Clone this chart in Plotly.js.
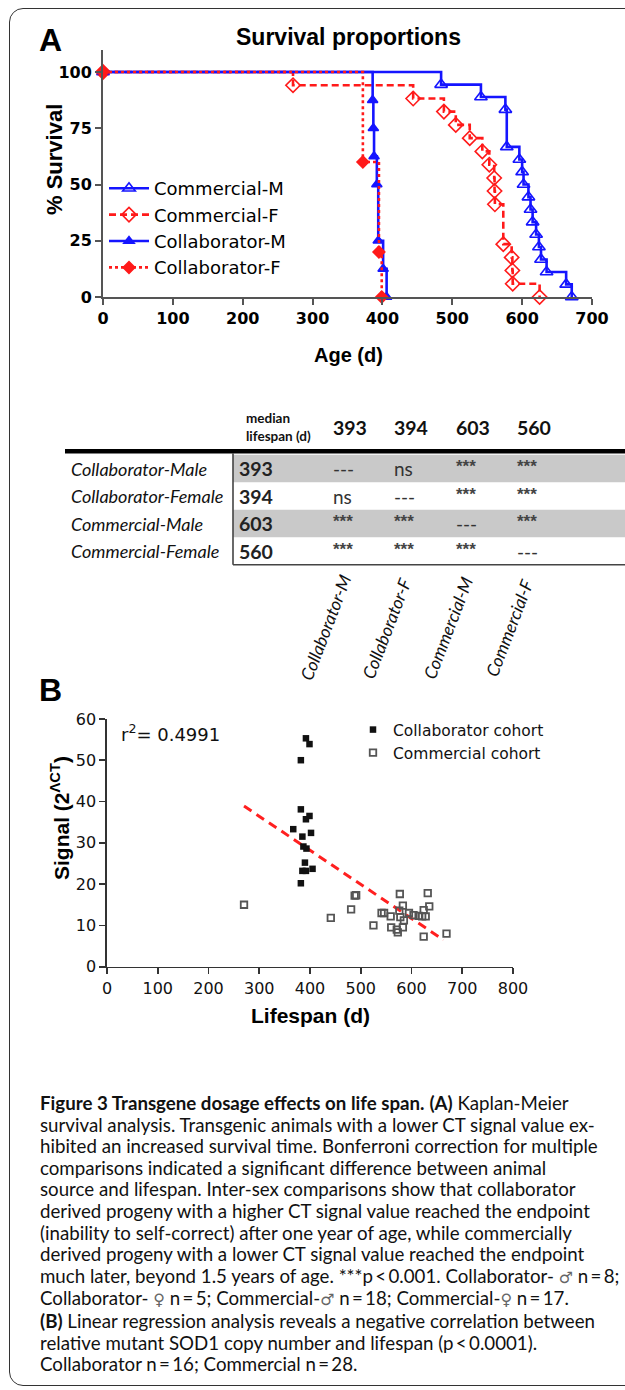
<!DOCTYPE html>
<html><head><meta charset="utf-8">
<script src="https://cdn.plot.ly/plotly-3.0.1.min.js"></script>
<style>
html,body{margin:0;padding:0;background:#fff;}
#wrap{position:relative;width:625px;height:1390px;overflow:hidden;background:#fff;}
#chart{position:absolute;left:0;top:0;width:625px;height:1390px;}
#frame{position:absolute;left:9px;top:8px;width:650px;height:1378px;border:1.6px solid #333;border-radius:14px;box-sizing:border-box;pointer-events:none;}
#caption{position:absolute;left:40px;top:1093px;font-family:Lato,"DejaVu Sans",sans-serif;line-height:21.6px;color:#111;white-space:nowrap;font-size:100px;}
#caption div{display:block;}
#caption span.ln{display:inline-block;}
#caption .sx{font-family:"DejaVu Sans",sans-serif;font-size:0.85em;color:#666;}
</style></head>
<body><div id="wrap"><div id="chart"></div><div id="frame"></div><div id="caption"></div></div>
<script>
// ---------- Panel A: Kaplan-Meier steps (day of event, % surviving after it) ----------
const commMaleDays = [0, 484, 541, 576, 578, 596, 600, 602, 609, 612, 615, 620, 624, 627, 635, 663, 671];
const commMaleSurv = [100, 94.4, 88.9, 83.3, 66.7, 61.1, 55.6, 50.0, 44.4, 38.9, 33.3, 27.8, 22.2, 16.7, 11.1, 5.6, 0];
const commFemDays = [0, 272, 444, 488, 505, 525, 543, 553, 560, 560.5, 561, 573, 585, 586, 586.5, 625];
const commFemSurv = [100, 94.1, 88.2, 82.4, 76.5, 70.6, 64.7, 58.8, 52.9, 47.1, 41.2, 23.5, 17.6, 11.8, 5.9, 0];
const collMaleDays = [0, 386, 387, 388, 392, 394, 401, 406];
const collMaleSurv = [100, 87.5, 75, 62.5, 50, 25, 12.5, 0];
const collFemDays = [0, 372, 395, 399];
const collFemSurv = [100, 60, 20, 0];
const seriesNamesA = ["Commercial-M", "Commercial-F", "Collaborator-M", "Collaborator-F"];
const ageTicks = [0, 100, 200, 300, 400, 500, 600, 700];
const survTicks = [0, 25, 50, 75, 100];

// ---------- Table ----------
const tableRows = ["Collaborator-Male", "Collaborator-Female", "Commercial-Male", "Commercial-Female"];
const medianLifespan = [393, 394, 603, 560];
const headerMedians = [393, 394, 603, 560];
const colLabels = ["Collaborator-M", "Collaborator-F", "Commercial-M", "Commercial-F"];
const sigMatrix = [
  ["---", "ns", "***", "***"],
  ["ns", "---", "***", "***"],
  ["***", "***", "---", "***"],
  ["***", "***", "***", "---"]
];

// ---------- Panel B: signal vs lifespan ----------
const collabLife = [392, 399, 382, 382, 399, 392, 367, 402, 385, 387, 393, 390, 385, 392, 405, 382];
const collabSig  = [55.3, 53.9, 50.0, 38.1, 36.5, 35.7, 33.3, 32.4, 31.5, 29.1, 28.6, 25.2, 23.2, 23.2, 23.7, 20.2];
const commLife = [270, 441, 481, 488, 491, 525, 541, 546, 559, 560, 571, 573, 577, 576, 578, 583, 585, 583, 595, 604, 614, 621, 624, 628, 632, 635, 624, 669];
const commSig  = [15.0, 11.8, 13.9, 17.2, 17.3, 10.0, 13.0, 13.0, 12.2, 9.5, 9.0, 8.3, 17.6, 13.6, 12.0, 14.8, 11.2, 9.5, 13.0, 12.5, 12.3, 12.2, 13.7, 12.2, 17.8, 14.6, 7.3, 8.0];
const fitLife = [270, 663];
const fitSig  = [38.9, 6.5];
const rSquared = "0.4991";
const seriesNamesB = ["Collaborator cohort", "Commercial cohort"];
const lifeTicks = [0, 100, 200, 300, 400, 500, 600, 700, 800];
const sigTicks = [0, 10, 20, 30, 40, 50, 60];

const male = '<span class="sx">\u2642</span>', female = '<span class="sx">\u2640</span>';
const captionLines = [
  '<b>Figure 3 Transgene dosage effects on life span.</b> <b>(A)</b> Kaplan-Meier',
  'survival analysis. Transgenic animals with a lower CT signal value ex-',
  'hibited an increased survival time. Bonferroni correction for multiple',
  'comparisons indicated a significant difference between animal',
  'source and lifespan. Inter-sex comparisons show that collaborator',
  'derived progeny with a higher CT signal value reached the endpoint',
  '(inability to self-correct) after one year of age, while commercially',
  'derived progeny with a lower CT signal value reached the endpoint',
  'much later, beyond 1.5 years of age. ***p\u2009&lt;\u20090.001. Collaborator- ' + male + ' n\u2009=\u20098;',
  'Collaborator- ' + female + ' n\u2009=\u20095; Commercial-' + male + ' n\u2009=\u200918; Commercial-' + female + ' n\u2009=\u200917.',
  '<b>(B)</b> Linear regression analysis reveals a negative correlation between',
  'relative mutant SOD1 copy number and lifespan (p\u2009&lt;\u20090.0001).',
  'Collaborator n\u2009=\u200916; Commercial n\u2009=\u200928.'
];

// ---------- layout helpers (page pixels -> paper) ----------
const W = 625, H = 1390;
const px = v => v / W;
const py = v => 1 - v / H;
const BLUE = '#1515ff', RED = '#ff1a1a';
const AR = 'Liberation Sans, Arial, sans-serif';
const DJ = 'DejaVu Sans, sans-serif';
const LT = 'Lato, sans-serif';

const stepTrace = (x, y, name, color, dash, symbol, size) => ({
  type: 'scatter', mode: 'lines+markers', x, y, name,
  xaxis: 'x', yaxis: 'y', legend: 'legend',
  line: {shape: 'hv', color, width: 2.6, dash},
  marker: {symbol, size, color, line: {color, width: 1.6}},
  cliponaxis: false
});

const traces = [
  stepTrace(commMaleDays, commMaleSurv, seriesNamesA[0], BLUE, 'solid', 'triangle-up-open', 11),
  stepTrace(commFemDays, commFemSurv, seriesNamesA[1], RED, '7px,4px', 'diamond-open', 11),
  stepTrace(collMaleDays, collMaleSurv, seriesNamesA[2], BLUE, 'solid', 'triangle-up', 9),
  stepTrace(collFemDays, collFemSurv, seriesNamesA[3], RED, '3px,3px', 'diamond', 9),
  {type: 'scatter', mode: 'lines', x: fitLife, y: fitSig, xaxis: 'x2', yaxis: 'y2',
   showlegend: false, line: {color: '#ff2020', width: 3, dash: '9px,6px'}, hoverinfo: 'skip'},
  {type: 'scatter', mode: 'markers', x: collabLife, y: collabSig, name: seriesNamesB[0],
   xaxis: 'x2', yaxis: 'y2', legend: 'legend2', cliponaxis: false,
   marker: {symbol: 'square', size: 6.5, color: '#111'}},
  {type: 'scatter', mode: 'markers', x: commLife, y: commSig, name: seriesNamesB[1],
   xaxis: 'x2', yaxis: 'y2', legend: 'legend2', cliponaxis: false,
   marker: {symbol: 'square-open', size: 6.5, color: '#555', line: {color: '#555', width: 1.8}}}
];

// hidden table axes: x3 = column index (1 unit = 61.3px, col 1 left edge at 331px); y3 = row index (27.5px, row 0 at 468.5px)
const colUnit = 61.3, col1Px = 331, rowUnit = 27.5, row0Px = 468.5;
const x3min = 1 - col1Px / colUnit;
const y3top = -row0Px / rowUnit;

const ann = [];
const A = (o) => ann.push(Object.assign({showarrow: false, xanchor: 'center', yanchor: 'middle'}, o));

// Panel A texts
A({text: 'A', xref: 'paper', yref: 'paper', x: px(50), y: py(40), font: {family: AR, size: 32, weight: 'bold', color: '#000'}});
A({text: 'Survival proportions', xref: 'paper', yref: 'paper', x: px(348), y: py(37), font: {family: AR, size: 23, weight: 'bold', color: '#000'}});
A({text: '% Survival', xref: 'paper', yref: 'paper', x: px(55), y: py(160), textangle: -90, font: {family: AR, size: 22, weight: 'bold', color: '#000'}});
A({text: 'Age (d)', xref: 'paper', yref: 'paper', x: px(348), y: py(355), font: {family: AR, size: 20, weight: 'bold', color: '#000'}});

// Table texts
A({text: 'median<br>lifespan (d)', xref: 'x3', yref: 'y3', x: 0, y: -1.5, xanchor: 'left', xshift: -26, align: 'left',
   font: {family: LT, size: 13.5, weight: 'bold', color: '#111'}});
headerMedians.forEach((m, k) => A({text: String(m), xref: 'x3', yref: 'y3', x: k + 1, y: -1.5, xanchor: 'left',
   font: {family: LT, size: 19.5, weight: 'bold', color: '#111'}}));
tableRows.forEach((r, i) => {
  A({text: r, xref: 'paper', yref: 'y3', x: px(69), y: i, xanchor: 'left', font: {family: LT, size: 18, style: 'italic', color: '#111'}});
  A({text: String(medianLifespan[i]), xref: 'x3', yref: 'y3', x: 0, y: i, xanchor: 'left', xshift: -33,
     font: {family: LT, size: 19.5, weight: 'bold', color: '#222'}});
  sigMatrix[i].forEach((s, k) => {
    const stars = s === '***';
    A({text: s, xref: 'x3', yref: 'y3', x: k + 1, y: i, xanchor: 'left', yshift: stars ? 2 : 0,
       font: stars ? {family: AR, size: 17, weight: 'bold', color: '#444'} : {family: LT, size: 19, color: '#333'}});
  });
});
colLabels.forEach((c, k) => A({text: c, xref: 'x3', yref: 'y3', x: k + 1, y: (628 - row0Px) / rowUnit, xshift: -6,
   textangle: -69, font: {family: LT, size: 17.5, style: 'italic', color: '#111'}}));

// Panel B texts
A({text: 'B', xref: 'paper', yref: 'paper', x: px(50), y: py(690), font: {family: AR, size: 32, weight: 'bold', color: '#000'}});
A({text: 'r<sup>2</sup>= ' + rSquared, xref: 'paper', yref: 'paper', x: px(119), y: py(733), xanchor: 'left', font: {family: DJ, size: 18, color: '#111'}});
A({text: 'Lifespan (d)', xref: 'paper', yref: 'paper', x: px(310), y: py(1015), font: {family: AR, size: 21, weight: 'bold', color: '#000'}});
A({text: 'Signal (2<sup>\u039bCT</sup>)', xref: 'paper', yref: 'paper', x: px(60), y: py(818), textangle: -90, font: {family: AR, size: 21, weight: 'bold', color: '#000'}});

const shapes = [];
// gray bands on rows 0 and 2
[0, 2].forEach(i => shapes.push({type: 'rect', xref: 'paper', yref: 'y3', x0: px(233), x1: 1, y0: i - 0.5, y1: i + 0.5,
   fillcolor: '#c9c9c9', line: {width: 0}, layer: 'below'}));
shapes.push({type: 'line', xref: 'paper', yref: 'y3', x0: px(65), x1: 1, y0: -0.63, y1: -0.63, line: {color: '#000', width: 4.5}});
shapes.push({type: 'line', xref: 'paper', yref: 'y3', x0: px(233), x1: px(233), y0: -0.55, y1: tableRows.length - 0.5, line: {color: '#444', width: 1.6}});
shapes.push({type: 'line', xref: 'paper', yref: 'y3', x0: px(233), x1: 1, y0: tableRows.length - 0.5, y1: tableRows.length - 0.5, line: {color: '#444', width: 1.6}});

const axA = {showgrid: false, zeroline: false, showline: true, linecolor: '#555', linewidth: 2,
  ticks: 'outside', ticklen: 6, tickwidth: 2, tickcolor: '#555', fixedrange: true,
  tickfont: {family: DJ, size: 16, weight: 'bold', color: '#000'}};
const axB = {showgrid: false, zeroline: false, showline: true, linecolor: '#333', linewidth: 1.6,
  ticks: 'outside', ticklen: 6, tickwidth: 1.6, tickcolor: '#333', fixedrange: true,
  tickfont: {family: DJ, size: 16, color: '#111'}};

const layout = {
  width: W, height: H, margin: {l: 0, r: 0, t: 0, b: 0}, paper_bgcolor: 'rgba(0,0,0,0)', plot_bgcolor: 'rgba(0,0,0,0)',
  showlegend: true,
  xaxis: Object.assign({}, axA, {domain: [px(103), px(592)], range: [0, 700], tickvals: ageTicks, anchor: 'y'}),
  yaxis: Object.assign({}, axA, {domain: [py(297), py(49.5)], range: [0, 110], tickvals: survTicks, anchor: 'x'}),
  xaxis2: Object.assign({}, axB, {domain: [px(107), px(513)], range: [0, 800], tickvals: lifeTicks, anchor: 'y2'}),
  yaxis2: Object.assign({}, axB, {domain: [py(966.7), py(718.9)], range: [0, 60], tickvals: sigTicks, anchor: 'x2'}),
  xaxis3: {domain: [0, 1], range: [x3min, x3min + W / colUnit], visible: false, fixedrange: true, anchor: 'y3'},
  yaxis3: {domain: [0, 1], range: [y3top + H / rowUnit, y3top], visible: false, fixedrange: true, anchor: 'x3'},
  legend: {x: px(104), y: py(170), xanchor: 'left', yanchor: 'top', bgcolor: 'rgba(0,0,0,0)',
    font: {family: DJ, size: 18, color: '#000'}, itemwidth: 40, tracegroupgap: 0},
  legend2: {x: px(353), y: py(713), xanchor: 'left', yanchor: 'top', bgcolor: 'rgba(0,0,0,0)',
    font: {family: DJ, size: 15.5, color: '#111'}},
  annotations: ann, shapes
};

Plotly.newPlot('chart', traces, layout, {staticPlot: true, displayModeBar: false});

// caption: fixed line breaks; font sized so that the widest rendered line spans 580px
const cap = document.getElementById('caption');
cap.innerHTML = captionLines.map(l => '<div><span class="ln">' + l + '</span></div>').join('');
let widest = 0;
cap.querySelectorAll('span.ln').forEach(s => { widest = Math.max(widest, s.getBoundingClientRect().width); });
cap.style.fontSize = (580 / widest * 100).toFixed(2) + 'px';
</script>
</body></html>
